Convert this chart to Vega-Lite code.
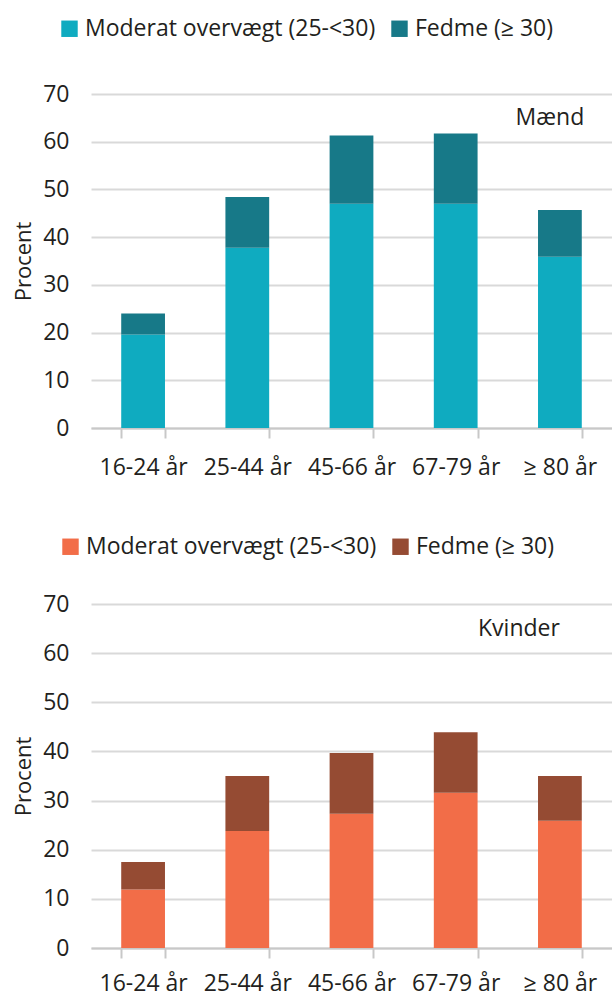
{
  "$schema": "https://vega.github.io/schema/vega-lite/v6.json",
  "autosize": {"type": "pad"},
  "padding": {"left": 12, "top": 17, "right": 0, "bottom": 4},
  "background": "white",
  "bounds": "flush",
  "spacing": 176,
  "config": {
    "font": "Open Sans",
    "view": {"stroke": null},
    "axis": {"labelFont": "Open Sans", "titleFont": "Open Sans", "labelColor": "#231f20", "titleColor": "#231f20", "labelFontSize": 23, "titleFontSize": 22, "titleFontWeight": "normal"},
    "legend": {"labelFont": "Open Sans", "labelFontSize": 23, "labelColor": "#231f20", "symbolType": "square", "symbolSize": 270, "symbolStrokeWidth": 0, "columnPadding": 12, "labelOffset": 4, "padding": 0, "orient": "none", "direction": "horizontal", "title": null, "labelLimit": 400}
  },
  "datasets": {
    "maend": [
      {"alder": "16-24 år", "type": "Moderat overvægt (25-<30)", "k": 1, "pct": 19.6},
      {"alder": "16-24 år", "type": "Fedme (≥ 30)", "k": 2, "pct": 4.4},
      {"alder": "25-44 år", "type": "Moderat overvægt (25-<30)", "k": 1, "pct": 37.8},
      {"alder": "25-44 år", "type": "Fedme (≥ 30)", "k": 2, "pct": 10.6},
      {"alder": "45-66 år", "type": "Moderat overvægt (25-<30)", "k": 1, "pct": 47.0},
      {"alder": "45-66 år", "type": "Fedme (≥ 30)", "k": 2, "pct": 14.3},
      {"alder": "67-79 år", "type": "Moderat overvægt (25-<30)", "k": 1, "pct": 47.0},
      {"alder": "67-79 år", "type": "Fedme (≥ 30)", "k": 2, "pct": 14.7},
      {"alder": "≥ 80 år", "type": "Moderat overvægt (25-<30)", "k": 1, "pct": 35.9},
      {"alder": "≥ 80 år", "type": "Fedme (≥ 30)", "k": 2, "pct": 9.8}
    ],
    "kvinder": [
      {"alder": "16-24 år", "type": "Moderat overvægt (25-<30)", "k": 1, "pct": 11.9},
      {"alder": "16-24 år", "type": "Fedme (≥ 30)", "k": 2, "pct": 5.6},
      {"alder": "25-44 år", "type": "Moderat overvægt (25-<30)", "k": 1, "pct": 23.8},
      {"alder": "25-44 år", "type": "Fedme (≥ 30)", "k": 2, "pct": 11.2},
      {"alder": "45-66 år", "type": "Moderat overvægt (25-<30)", "k": 1, "pct": 27.3},
      {"alder": "45-66 år", "type": "Fedme (≥ 30)", "k": 2, "pct": 12.4},
      {"alder": "67-79 år", "type": "Moderat overvægt (25-<30)", "k": 1, "pct": 31.6},
      {"alder": "67-79 år", "type": "Fedme (≥ 30)", "k": 2, "pct": 12.3},
      {"alder": "≥ 80 år", "type": "Moderat overvægt (25-<30)", "k": 1, "pct": 25.9},
      {"alder": "≥ 80 år", "type": "Fedme (≥ 30)", "k": 2, "pct": 9.1}
    ],
    "labels": [
      {"alder": "≥ 80 år", "pct": 65, "navn": "Mænd"}
    ],
    "labels2": [
      {"alder": "≥ 80 år", "pct": 65, "navn": "Kvinder"}
    ]
  },
  "resolve": {"scale": {"color": "independent"}},
  "vconcat": [
    {
      "width": 521,
      "height": 334,
      "layer": [
        {
          "data": {"name": "maend"},
          "mark": {"type": "bar"},
          "encoding": {
            "x": {"field": "alder", "type": "nominal", "sort": null, "scale": {"paddingInner": 0.58, "paddingOuter": 0.29},
              "axis": {"title": null, "labelAngle": 0, "tickBand": "extent", "domainColor": "#c8c8c8", "domainWidth": 2, "tickColor": "#c8c8c8", "tickWidth": 2, "tickSize": 10, "labelPadding": 18, "grid": false}},
            "y": {"field": "pct", "type": "quantitative", "stack": "zero", "scale": {"domain": [0, 70]},
              "axis": {"title": "Procent", "values": [0, 10, 20, 30, 40, 50, 60, 70], "domain": false, "ticks": false, "labelPadding": 22, "titlePadding": 7, "gridColor": "#d9d9d9", "gridWidth": 2}},
            "color": {"field": "type", "type": "nominal", "sort": ["Moderat overvægt (25-<30)", "Fedme (≥ 30)"],
              "scale": {"domain": ["Moderat overvægt (25-<30)", "Fedme (≥ 30)"], "range": ["#0fabc0", "#177988"]},
              "legend": {"legendX": -33, "legendY": -77}},
            "order": {"field": "k", "type": "quantitative"}
          }
        },
        {
          "data": {"name": "labels"},
          "mark": {"type": "text", "align": "center", "baseline": "middle", "dx": -10, "fontSize": 23, "color": "#231f20", "font": "Open Sans"},
          "encoding": {
            "x": {"field": "alder", "type": "nominal"},
            "y": {"field": "pct", "type": "quantitative"},
            "text": {"field": "navn"}
          }
        }
      ]
    },
    {
      "width": 521,
      "height": 344,
      "layer": [
        {
          "data": {"name": "kvinder"},
          "mark": {"type": "bar"},
          "encoding": {
            "x": {"field": "alder", "type": "nominal", "sort": null, "scale": {"paddingInner": 0.58, "paddingOuter": 0.29},
              "axis": {"title": null, "labelAngle": 0, "tickBand": "extent", "domainColor": "#c8c8c8", "domainWidth": 2, "tickColor": "#c8c8c8", "tickWidth": 2, "tickSize": 10, "labelPadding": 14, "grid": false}},
            "y": {"field": "pct", "type": "quantitative", "stack": "zero", "scale": {"domain": [0, 70]},
              "axis": {"title": "Procent", "values": [0, 10, 20, 30, 40, 50, 60, 70], "domain": false, "ticks": false, "labelPadding": 22, "titlePadding": 7, "gridColor": "#d9d9d9", "gridWidth": 2}},
            "color": {"field": "type", "type": "nominal", "sort": ["Moderat overvægt (25-<30)", "Fedme (≥ 30)"],
              "scale": {"domain": ["Moderat overvægt (25-<30)", "Fedme (≥ 30)"], "range": ["#f26d48", "#954b33"]},
              "legend": {"legendX": -32, "legendY": -69}},
            "order": {"field": "k", "type": "quantitative"}
          }
        },
        {
          "data": {"name": "labels2"},
          "mark": {"type": "text", "align": "right", "baseline": "middle", "fontSize": 23, "color": "#231f20", "font": "Open Sans"},
          "encoding": {
            "x": {"field": "alder", "type": "nominal"},
            "y": {"field": "pct", "type": "quantitative"},
            "text": {"field": "navn"}
          }
        }
      ]
    }
  ]
}
